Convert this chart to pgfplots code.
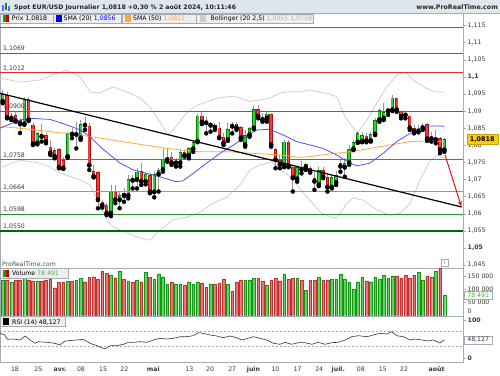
\documentclass[border=0pt]{standalone}
\usepackage{pgfplots}
\pgfplotsset{compat=1.18}
\usepackage{pgfplotstable}
\usepackage{fontspec}
\setmainfont{DejaVu Sans}
\usetikzlibrary{arrows.meta}

\definecolor{gdark}{RGB}{0,125,0}
\definecolor{glight}{RGB}{60,205,60}
\definecolor{rdark}{RGB}{175,15,15}
\definecolor{rlight}{RGB}{240,60,60}
\definecolor{wick}{RGB}{150,150,150}
\definecolor{vgfill}{RGB}{95,210,95}
\definecolor{vgdraw}{RGB}{20,150,20}
\definecolor{vrfill}{RGB}{232,118,118}
\definecolor{vrdraw}{RGB}{190,50,50}
\definecolor{smablue}{RGB}{70,70,255}
\definecolor{smaorange}{RGB}{255,165,60}
\definecolor{boll}{RGB}{205,205,205}
\definecolor{bolltext}{RGB}{180,180,180}
\definecolor{lvred}{RGB}{235,40,40}
\definecolor{lvgA}{RGB}{40,155,40}
\definecolor{lvgB}{RGB}{95,190,95}
\definecolor{lvgC}{RGB}{40,145,40}
\definecolor{lvgD}{RGB}{0,105,0}
\definecolor{framec}{RGB}{165,172,182}
\definecolor{labc}{RGB}{55,55,55}
\definecolor{hdr}{RGB}{224,230,237}
\definecolor{boxc}{RGB}{238,238,238}
\definecolor{gold}{RGB}{250,205,10}
\definecolor{vtext}{RGB}{60,190,60}

\pgfplotstableread{
k o h l c
0 1.0928 1.0962 1.0923 1.0949
2 1.0879 1.0895 1.0874 1.0887
5 1.0862 1.0942 1.0860 1.0936
8 1.0806 1.0840 1.0803 1.0835
15 1.0767 1.0840 1.0764 1.0835
17 1.0831 1.0869 1.0791 1.0835
18 1.0821 1.0874 1.0816 1.0862
25 1.0601 1.0684 1.0593 1.0665
27 1.0640 1.0665 1.0616 1.0655
29 1.0652 1.0714 1.0645 1.0701
31 1.0699 1.0733 1.0674 1.0723
33 1.0694 1.0723 1.0686 1.0715
35 1.0663 1.0725 1.0648 1.0715
36 1.0715 1.0733 1.0665 1.0728
37 1.0728 1.0791 1.0723 1.0760
38 1.0757 1.0791 1.0752 1.0767
40 1.0748 1.0762 1.0738 1.0754
41 1.0748 1.0786 1.0738 1.0780
43 1.0770 1.0796 1.0762 1.0791
44 1.0789 1.0816 1.0781 1.0809
45 1.0811 1.0891 1.0809 1.0887
48 1.0858 1.0869 1.0840 1.0862
52 1.0816 1.0865 1.0813 1.0847
56 1.0801 1.0845 1.0796 1.0830
57 1.0830 1.0855 1.0825 1.0850
58 1.0850 1.0915 1.0847 1.0906
61 1.0879 1.0898 1.0869 1.0892
65 1.0740 1.0816 1.0736 1.0811
68 1.0701 1.0740 1.0694 1.0736
70 1.0736 1.0749 1.0728 1.0745
73 1.0684 1.0738 1.0681 1.0728
76 1.0677 1.0714 1.0674 1.0707
77 1.0690 1.0725 1.0684 1.0713
78 1.0738 1.0757 1.0723 1.0748
79 1.0735 1.0762 1.0708 1.0748
80 1.0748 1.0801 1.0743 1.0789
81 1.0789 1.0816 1.0786 1.0809
82 1.0809 1.0842 1.0807 1.0835
83 1.0811 1.0840 1.0809 1.0830
85 1.0813 1.0840 1.0811 1.0832
86 1.0832 1.0879 1.0830 1.0874
87 1.0874 1.0908 1.0869 1.0903
88 1.0879 1.0923 1.0874 1.0897
89 1.0900 1.0908 1.0889 1.0904
90 1.0903 1.0947 1.0900 1.0939
96 1.0840 1.0860 1.0838 1.0852
97 1.0850 1.0865 1.0845 1.0860
100 1.0816 1.0845 1.0806 1.0822
102 1.0786 1.0822 1.0781 1.0818
}\greenc

\pgfplotstableread{
k o h l c
1 1.0947 1.0955 1.0879 1.0881
3 1.0889 1.0898 1.0869 1.0871
4 1.0874 1.0879 1.0836 1.0862
6 1.0936 1.0942 1.0871 1.0874
7 1.0860 1.0865 1.0801 1.0803
9 1.0832 1.0862 1.0811 1.0825
10 1.0830 1.0835 1.0806 1.0811
11 1.0796 1.0816 1.0772 1.0777
12 1.0786 1.0791 1.0762 1.0767
13 1.0789 1.0793 1.0733 1.0735
14 1.0757 1.0767 1.0731 1.0733
16 1.0836 1.0852 1.0821 1.0832
19 1.0862 1.0884 1.0845 1.0858
20 1.0858 1.0865 1.0728 1.0741
21 1.0725 1.0743 1.0706 1.0708
22 1.0721 1.0725 1.0616 1.0640
23 1.0635 1.0640 1.0618 1.0624
24 1.0626 1.0631 1.0596 1.0601
26 1.0667 1.0684 1.0631 1.0640
28 1.0660 1.0674 1.0635 1.0652
30 1.0701 1.0714 1.0674 1.0697
32 1.0725 1.0748 1.0684 1.0694
34 1.0713 1.0718 1.0660 1.0663
39 1.0767 1.0781 1.0743 1.0748
42 1.0781 1.0786 1.0767 1.0770
46 1.0887 1.0897 1.0862 1.0867
47 1.0868 1.0884 1.0835 1.0865
49 1.0860 1.0865 1.0845 1.0852
50 1.0852 1.0869 1.0821 1.0822
51 1.0825 1.0836 1.0801 1.0806
53 1.0860 1.0869 1.0835 1.0855
54 1.0863 1.0869 1.0845 1.0850
55 1.0853 1.0857 1.0816 1.0821
59 1.0906 1.0918 1.0879 1.0884
60 1.0882 1.0894 1.0869 1.0874
62 1.0892 1.0895 1.0796 1.0801
63 1.0788 1.0791 1.0733 1.0757
64 1.0757 1.0772 1.0733 1.0743
66 1.0811 1.0816 1.0736 1.0738
67 1.0738 1.0743 1.0665 1.0704
69 1.0733 1.0755 1.0718 1.0728
71 1.0733 1.0740 1.0720 1.0723
72 1.0704 1.0723 1.0670 1.0694
74 1.0728 1.0738 1.0704 1.0707
75 1.0707 1.0714 1.0665 1.0677
84 1.0828 1.0835 1.0809 1.0813
91 1.0939 1.0942 1.0898 1.0903
92 1.0898 1.0903 1.0879 1.0884
93 1.0891 1.0894 1.0879 1.0888
94 1.0887 1.0889 1.0845 1.0850
95 1.0850 1.0860 1.0835 1.0840
98 1.0862 1.0865 1.0813 1.0818
99 1.0822 1.0840 1.0811 1.0819
101 1.0821 1.0825 1.0777 1.0786
}\redc

\pgfplotstableread{
k v
0 134700
2 126000
5 142300
8 131000
15 131000
17 134700
18 141100
25 153600
27 168700
29 131000
31 134700
33 163800
35 138500
36 156200
37 147200
38 118500
40 118500
41 118500
43 126000
44 118500
45 128300
48 119600
52 118500
56 134700
57 134700
58 141100
61 115900
65 156200
68 141100
70 97000
73 144900
76 138500
77 138500
78 156200
79 138500
80 126000
81 100800
82 128300
83 146100
85 128300
86 147200
87 138500
88 153600
89 141100
90 151000
96 163800
97 134700
100 168700
102 78491
}\volg

\pgfplotstableread{
k v
1 134700
3 134700
4 134700
6 134700
7 131000
9 131000
10 134700
11 138500
12 105700
13 126000
14 126000
16 131000
19 128300
20 144900
21 147200
22 138500
23 168700
24 160000
26 143400
28 138500
30 126000
32 128300
34 144900
39 126000
42 115900
46 122300
47 107200
49 119600
50 122300
51 138500
53 93200
54 126000
55 134700
59 141100
60 131000
62 134700
63 141100
64 132100
66 138500
67 141100
69 134700
71 134700
72 134700
74 134700
75 134700
84 131000
91 149800
92 141100
93 153600
94 141100
95 153600
98 149800
99 147200
101 178900
}\volr

\pgfplotstableread{
k v
-0.62 1.0850
4.0 1.0874
6.3 1.0879
10.9 1.0876
14.8 1.0860
17.9 1.0845
20.2 1.0825
22.5 1.0796
24.8 1.0772
27.1 1.0748
30.2 1.0728
33.3 1.0718
36.3 1.0708
40.0 1.0694
41.6 1.0696
44.0 1.0718
47.1 1.0748
50.2 1.0777
53.3 1.0801
55.6 1.0821
58.7 1.0845
61.7 1.0847
64.8 1.0830
67.9 1.0811
71.0 1.0801
74.0 1.0791
77.1 1.0772
80.2 1.0748
81.8 1.0740
84.8 1.0748
87.9 1.0777
91.0 1.0811
94.1 1.0835
97.1 1.0855
99.4 1.0857
102.0 1.0856
}\smaA

\pgfplotstableread{
k v
-0.62 1.0855
4.0 1.0850
10.9 1.0840
17.9 1.0830
22.5 1.0821
30.2 1.0806
37.9 1.0791
45.6 1.0781
52.5 1.0781
57.1 1.0777
64.0 1.0772
68.7 1.0765
71.0 1.0767
75.6 1.0775
80.2 1.0781
84.8 1.0791
89.4 1.0801
94.1 1.0811
98.7 1.0813
102.0 1.0811
}\smaB

\pgfplotstableread{
k v
-0.62 1.0997
4.0 1.0985
8.6 1.0991
11.6 1.1006
14.8 1.1020
17.9 1.1000
20.2 1.0956
22.5 1.0953
25.5 1.0971
28.7 1.0956
31.7 1.0938
34.0 1.0912
36.3 1.0868
38.2 1.0830
39.8 1.0851
42.1 1.0889
44.4 1.0915
47.2 1.0927
49.5 1.0938
53.2 1.0944
54.8 1.0938
57.1 1.0928
59.4 1.0933
61.7 1.0938
64.0 1.0953
66.4 1.0957
68.7 1.0957
71.0 1.0962
72.6 1.0957
74.9 1.0952
77.2 1.0942
79.0 1.0884
80.7 1.0855
81.8 1.0836
83.0 1.0854
84.1 1.0874
86.4 1.0924
88.7 1.0971
91.1 1.1006
92.9 1.1015
94.8 1.0991
97.1 1.0972
99.4 1.0957
102.0 1.0955
}\bollU

\pgfplotstableread{
k v
-0.62 1.0734
4.0 1.0757
8.6 1.0748
10.9 1.0737
13.2 1.0719
17.9 1.0699
20.2 1.0684
22.5 1.0623
24.1 1.0582
25.5 1.0561
28.7 1.0544
31.7 1.0529
34.0 1.0523
36.3 1.0552
39.3 1.0582
42.6 1.0590
45.6 1.0605
48.6 1.0631
51.8 1.0649
54.8 1.0684
57.1 1.0728
59.4 1.0743
62.2 1.0751
66.4 1.0707
70.3 1.0649
73.3 1.0605
75.6 1.0590
77.2 1.0588
79.5 1.0631
80.9 1.0646
83.2 1.0640
86.4 1.0611
89.4 1.0596
91.8 1.0602
94.1 1.0631
96.4 1.0699
98.7 1.0755
100.5 1.0772
102.0 1.0762
}\bollL

\pgfplotstableread{
k v
-0.6 65
0.5 60.5
1.1 49.2
2.4 50
4.0 47.4
5.2 57.9
6.3 47.4
7.5 38.7
8.2 42.9
10.2 41.3
12.1 38.7
13.2 34.2
14.4 44.7
17.1 47.4
18.6 49.2
20.2 38.7
21.7 32.4
23.2 25.5
23.9 25.5
24.8 32.4
26.3 32.4
27.9 36.1
29.0 41.3
30.2 41.3
31.7 42.9
33.3 41.3
34.8 47.4
36.3 51.8
37.9 50
39.4 51.8
41.0 56
42.5 56
44.0 58.7
45.2 66.6
46.3 65
47.9 60.5
49.4 57.9
50.9 53.4
52.5 57.9
54.0 53.4
55.2 47.4
56.7 51.8
57.9 56
59.4 51.8
61.0 47.4
62.5 38.7
64.0 36.1
65.2 41.3
66.7 36.1
68.3 40.3
69.8 40.3
71.4 36.1
72.9 41.3
74.4 36.1
76.0 40.3
77.5 41.3
79.1 47.4
80.6 56
82.1 58.7
84.1 56
85.6 60.5
87.1 65
88.7 63.2
89.8 69.2
91.0 58.7
92.5 56
94.1 47.4
95.2 50
96.8 47.4
98.3 44.7
99.4 47.4
101.0 39.5
102.0 48.1
}\rsi

\pgfplotsset{
  candle/.style={forget plot, only marks, mark=none,
    error bars/.cd, y dir=plus, y explicit, error mark=none},
  level/.style={forget plot, no marks, draw=#1, line width=0.9pt},
  panel/.style={anchor=south west, scale only axis, width=463pt,
    xmin=-0.62, xmax=106.3, clip=false,
    axis line style={framec, line width=0.6pt},
    tick align=outside, major tick length=2.5pt,
    tick style={framec, line width=0.5pt},
    xtick=\empty, ytick pos=right, yticklabel pos=right,
    scaled y ticks=false,
    yticklabel style={font=\fontsize{6.2}{7}\selectfont, text=labc, anchor=west, inner sep=0pt, xshift=2pt}},
}
\tikzset{lvlabel/.style={anchor=base west, inner sep=0pt, text=labc, xshift=3pt, yshift=2.6pt}}

\begin{document}
\begin{tikzpicture}[font=\fontsize{6.2}{7}\selectfont]
\path[use as bounding box] (0pt,0pt) rectangle (500pt,375pt);
\fill[white] (0pt,0pt) rectangle (500pt,375pt);

%================ PRICE PANEL =================
\begin{axis}[panel, at={(0pt,107pt)}, height=254.5pt,
  ymin=1.04414, ymax=1.11855,
  ytick={1.045,1.05,1.055,1.06,1.065,1.07,1.075,1.08,1.085,1.09,1.095,1.1,1.105,1.11,1.115},
  yticklabels={{1,045},{\textbf{1,05}},{1,055},{1,06},{1,065},{1,07},{1,075},{1,08},{1,085},{1,09},{1,095},{\textbf{1,1}},{1,105},{1,11},{1,115}}]
% Bollinger
\addplot[boll, line width=0.75pt, forget plot] table[x=k,y=v] {\bollU};
\addplot[boll, line width=0.75pt, forget plot] table[x=k,y=v] {\bollL};
% wicks
\addplot[candle, error bar style={line width=0.8pt, wick}] table[x=k, y=l, y error expr=\thisrow{h}-\thisrow{l}] {\greenc};
\addplot[candle, error bar style={line width=0.8pt, wick}] table[x=k, y=l, y error expr=\thisrow{h}-\thisrow{l}] {\redc};
% bodies
\addplot[candle, error bar style={line width=3.4pt, gdark}] table[x=k, y=o, y error expr=\thisrow{c}-\thisrow{o}] {\greenc};
\addplot[candle, error bar style={line width=1.9pt, glight}] table[x=k, y expr=\thisrow{o}+0.00018, y error expr=\thisrow{c}-\thisrow{o}-0.00036] {\greenc};
\addplot[candle, error bar style={line width=3.4pt, rdark}] table[x=k, y=c, y error expr=\thisrow{o}-\thisrow{c}] {\redc};
\addplot[candle, error bar style={line width=1.9pt, rlight}] table[x=k, y expr=\thisrow{c}+0.00018, y error expr=\thisrow{o}-\thisrow{c}-0.00036] {\redc};
% moving averages
\addplot[smaorange, line width=0.75pt, forget plot] table[x=k,y=v] {\smaB};
\addplot[smablue, line width=0.75pt, forget plot] table[x=k,y=v] {\smaA};
% horizontal levels
\addplot[level=lvred] coordinates {(-0.62,1.1146) (106.3,1.1146)};
\addplot[level=lvred] coordinates {(-0.62,1.1069) (106.3,1.1069)};
\addplot[level=lvred] coordinates {(-0.62,1.1012) (106.3,1.1012)};
\addplot[level=lvred] coordinates {(-0.62,1.0900) (106.3,1.0900)};
\addplot[level=lvgA] coordinates {(-0.62,1.0758) (106.3,1.0758)};
\addplot[level=lvgB] coordinates {(-0.62,1.0664) (106.3,1.0664)};
\addplot[level=lvgC] coordinates {(-0.62,1.0598) (106.3,1.0598)};
\addplot[level=lvgD, line width=1.6pt] coordinates {(-0.62,1.0550) (106.3,1.0550)};
% trend line and arrow
\addplot[black, line width=1.2pt] coordinates {(-0.62,1.09522) (106.0,1.06197)};
\addplot[red!90!black, line width=0.9pt, -{Stealth[length=5pt,width=4pt]}] coordinates {(102.15,1.0772) (105.9,1.0622)};
% level labels
\node[lvlabel] at (axis cs:-0.62,1.1069) {1,1069};
\node[lvlabel] at (axis cs:-0.62,1.1012) {1,1012};
\node[lvlabel] at (axis cs:-0.62,1.0900) {1,0900};
\node[lvlabel] at (axis cs:-0.62,1.0758) {1,0758};
\node[lvlabel] at (axis cs:-0.62,1.0664) {1,0664};
\node[lvlabel] at (axis cs:-0.62,1.0598) {1,0598};
\node[lvlabel] at (axis cs:-0.62,1.0550) {1,0550};
% current price tag
\node[anchor=west, fill=gold, draw=gold!80!black, line width=0.3pt, inner sep=0pt, minimum width=31pt, minimum height=10pt, font=\fontsize{6.4}{7}\selectfont\bfseries, xshift=3.5pt] at (axis cs:106.3,1.0818) {1,0818};
\end{axis}

%================ VOLUME PANEL =================
\begin{axis}[panel, at={(0pt,59pt)}, height=48pt,
  ymin=-1100, ymax=180000,
  ytick={50000,100000,150000}, yticklabels={{50 000},{100 000},{150 000}}]
\addplot[ybar, bar width=2.7pt, bar shift=0pt, fill=vgfill, draw=vgdraw, line width=0.35pt] table[x=k,y=v] {\volg};
\addplot[ybar, bar width=2.7pt, bar shift=0pt, fill=vrfill, draw=vrdraw, line width=0.35pt] table[x=k,y=v] {\volr};
\node[anchor=west, inner sep=0pt, text=labc, xshift=4.5pt, yshift=4pt] at (axis cs:106.3,0) {0};
\node[anchor=west, fill=white, draw=framec, line width=0.3pt, inner sep=0pt, minimum width=28pt, minimum height=8pt, text=vtext, xshift=1pt] at (axis cs:106.3,78491) {78 491};
\end{axis}

%================ RSI PANEL =================
\begin{axis}[panel, at={(0pt,13pt)}, height=46pt,
  ymin=-10.5, ymax=110.5,
  ytick={0,100}, yticklabels={\textbf{0},\textbf{100}},
  xtick={2.84,8.22,13.23,18.08,23.2,28.1,34.8,43.1,47.9,53.0,57.9,63.0,68.1,73.1,77.5,82.7,87.8,92.7,100.2},
  xticklabels={18,25,\textbf{avr.},08,15,22,\textbf{mai},13,20,27,\textbf{juin},10,17,24,\textbf{juil.},08,15,22,\textbf{août}},
  xtick style={draw=none},
  xticklabel style={font=\fontsize{6.2}{7}\selectfont, text=labc, anchor=base, inner sep=0pt, yshift=-6.5pt}]
\addplot[gray!70, line width=0.5pt, dash pattern=on 2pt off 2pt] coordinates {(-0.62,70) (106.3,70)};
\addplot[gray!70, line width=0.5pt, dash pattern=on 2pt off 2pt] coordinates {(-0.62,30) (106.3,30)};
\addplot[black!80, line width=0.6pt] table[x=k,y=v] {\rsi};
\node[anchor=west, fill=white, draw=framec, line width=0.3pt, inner sep=0pt, minimum width=28pt, minimum height=8pt, text=labc, xshift=1pt] at (axis cs:106.3,48.127) {48,127};
\end{axis}

\begin{scope}[x=1pt,y=1pt]
%================ HEADER =================
\fill[hdr] (0,361.5) rectangle (500,375);
\draw[framec, line width=0.6pt] (0,361.5) -- (500,361.5);
\fill[blue!60] (2,364) rectangle (3.5,370);
\fill[green!60!black] (5,365) rectangle (6.5,372);
\fill[blue!60] (8,363.5) rectangle (9.5,368.5);
\node[anchor=base west, inner sep=0pt, font=\fontsize{6.2}{7}\selectfont\bfseries, text=black!85] at (14,365.6) {Spot EUR/USD Journalier 1,0818 +0,30 \% 2 août 2024, 10:11:46};
\node[anchor=base east, inner sep=0pt, font=\fontsize{6.3}{7}\selectfont\bfseries, text=black!85] at (498,365.6) {www.ProRealTime.com};

% legend row
\filldraw[fill=boxc, draw=framec, line width=0.5pt] (0.3,351.7) rectangle (53,360.7);
\fill[green!70!black] (3,353) rectangle (6,359.5);
\fill[red!80!black] (6,353) rectangle (9,359.5);
\node[anchor=base west, inner sep=0pt] at (11.7,354) {Prix 1,0818};
\filldraw[fill=boxc, draw=framec, line width=0.5pt] (53.5,351.7) rectangle (121.5,360.7);
\fill[blue] (55.5,353) rectangle (61.5,359.5);
\node[anchor=base west, inner sep=0pt] at (63.5,354) {SMA (20) \textcolor{blue}{1,0856}};
\filldraw[fill=boxc, draw=framec, line width=0.5pt] (122,351.7) rectangle (196,360.7);
\fill[smaorange] (124.5,353) rectangle (130.5,359.5);
\node[anchor=base west, inner sep=0pt] at (133,354) {SMA (50) \textcolor{smaorange}{1,0811}};
\filldraw[fill=boxc, draw=framec, line width=0.5pt] (196.5,351.7) rectangle (313,360.7);
\fill[boll] (200,353) rectangle (206,359.5);
\node[anchor=base west, inner sep=0pt] at (210.5,354) {Bollinger (20 2,5) \textcolor{bolltext}{1,0955 1,0758}};

% ProRealTime mark and info icon
\node[anchor=base west, inner sep=0pt, text=black!70] at (2,109) {ProRealTime.com};
\draw[framec, fill=white, line width=0.4pt] (441,108.5) rectangle (448,116);
\node[inner sep=0pt, font=\fontsize{5}{6}\selectfont, text=black!60] at (444.5,112.2) {i};

% volume legend
\filldraw[fill=boxc, draw=framec, line width=0.5pt] (0.3,97) rectangle (68,107);
\fill[green!70!black] (3,98.5) rectangle (6,105.5);
\fill[red!80!black] (6,98.5) rectangle (9,105.5);
\node[anchor=base west, inner sep=0pt] at (12,99.7) {Volume \textcolor{vtext}{78 491}};
% rsi legend
\filldraw[fill=boxc, draw=framec, line width=0.5pt] (0.3,48.3) rectangle (65,58.3);
\fill[black] (3,50) rectangle (9,56.8);
\node[anchor=base west, inner sep=0pt] at (12,51) {RSI (14) 48,127};
\end{scope}
\end{tikzpicture}
\end{document}
